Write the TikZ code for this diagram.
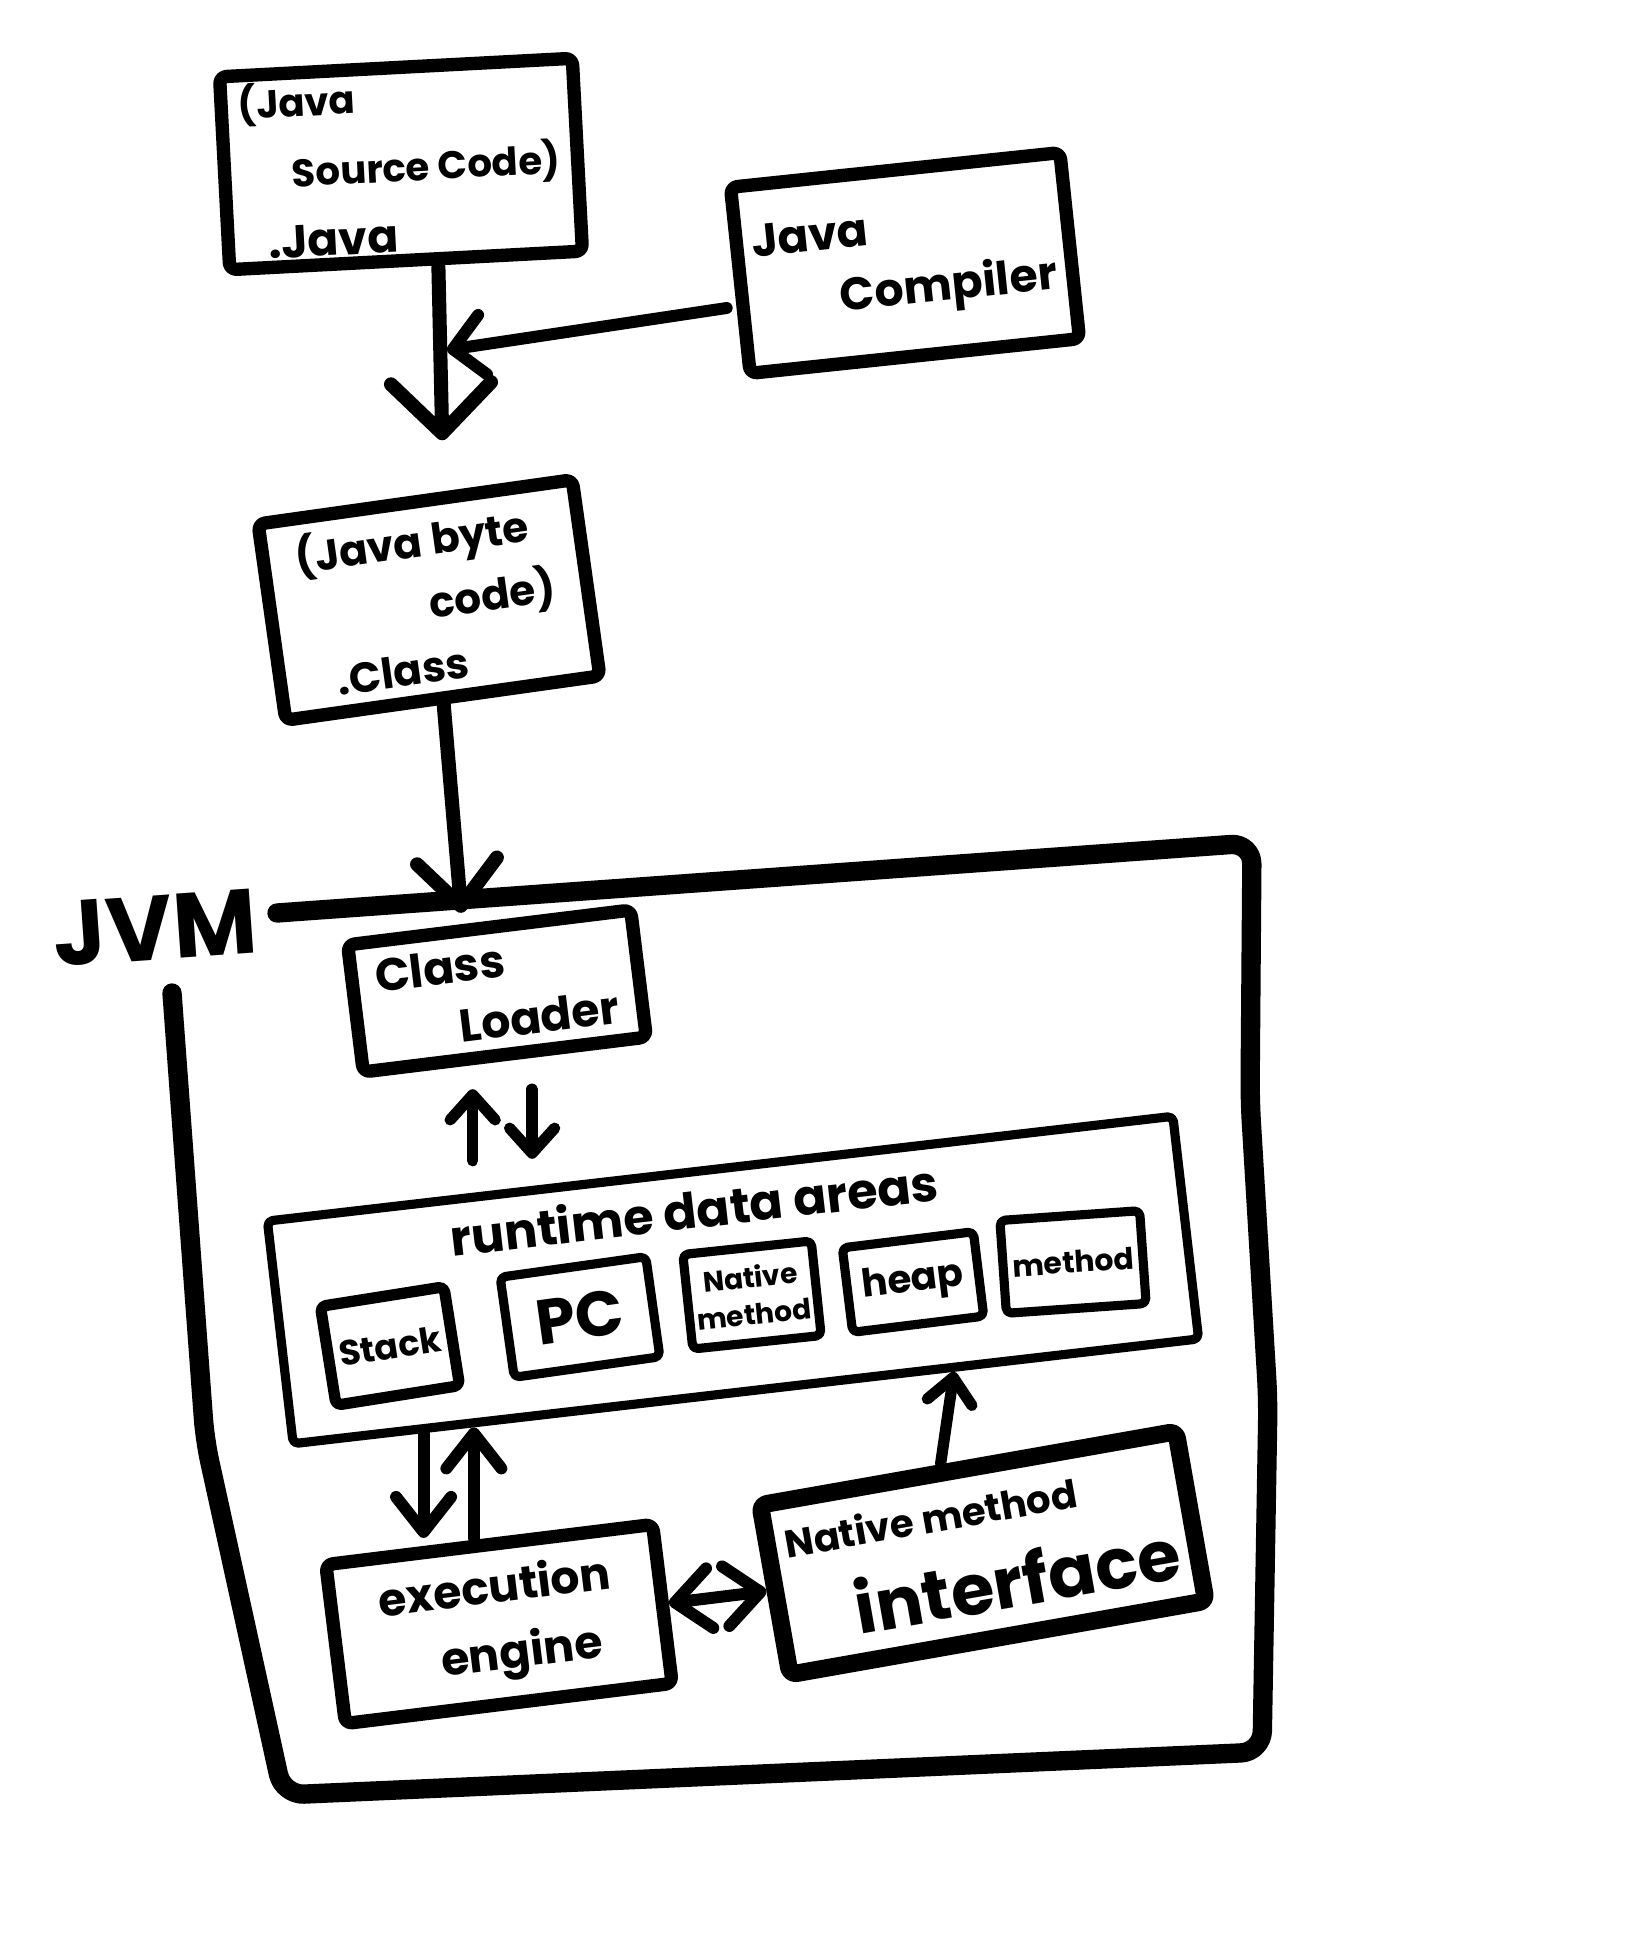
\documentclass[tikz,border=0pt]{standalone}
\usepackage{fontspec}
\newfontfamily\handfont{Poppins}
\newcommand{\handsize}[2]{\handfont\bfseries\fontsize{#1}{#2}\selectfont}
\usetikzlibrary{positioning,arrows.meta,calc}
\tikzset{
  sketchbox/.style={draw, line width=3.8pt, line join=round, rounded corners=2pt, align=left, inner sep=0pt},
  areabox/.style={draw, line width=2.6pt, line join=round, rounded corners=1.5pt, align=center, inner sep=0pt},
  jvmframe/.style={line width=5.5pt, line join=round, rounded corners=6pt},
  bigarrow/.style={line width=4pt, -{Straight Barb[length=5mm, width=10mm, round]}},
  clarrow/.style={line width=4pt, -{Straight Barb[length=4.5mm, width=8mm, round]}},
  midarrow/.style={line width=3.4pt, -{Straight Barb[length=3mm, width=6mm, round]}},
  smallarrow/.style={line width=3.2pt, -{Straight Barb[length=2.5mm, width=4.5mm, round]}},
  engarrow/.style={line width=3.4pt, -{Straight Barb[length=3.5mm, width=5.5mm, round]}},
  dblarrow/.style={line width=3.4pt, {Straight Barb[length=3.5mm, width=6mm, round]}-{Straight Barb[length=3.5mm, width=6mm, round]}}
}

\begin{document}
\begin{tikzpicture}[x=0.01cm, y=-0.01cm, line cap=round]
  \useasboundingbox (0,0) rectangle (1640,1943);
  % compile step
  \node[sketchbox, minimum width=3.53cm, minimum height=1.93cm, rotate=3, font=\handsize{11}{20}] (src) at (401,164) {(Java\\\hspace*{1.3em}Source Code)\\\hspace*{0.6em}{\fontsize{13}{20}\selectfont .Java}};
  \node[sketchbox, minimum width=3.31cm, minimum height=1.87cm, rotate=6, font=\handsize{13}{18}] (comp) at (905,263) {Java\\\hspace*{1.8em}Compiler};
  \node[sketchbox, minimum width=3.17cm, minimum height=1.98cm, rotate=8, font=\handsize{12}{18}] (bc) at (429,600) {(Java byte\\\hspace*{3em}code)\\\hspace*{0.6em}.Class};
  \coordinate (join) at (447,350);
  \coordinate (srctip) at ($(bc.north)+(28,-55)$);
  \draw[bigarrow] ($(src.south)+(32,0)$) -- (srctip);
  \draw[midarrow] ($(comp.west)+(-7,27)$) -- (join);

  % JVM
  \node[font=\handsize{26}{30}, rotate=4] (jvm) at (155,928) {JVM};
  \draw[jvmframe] (277,913) -- (1252,843) -- (1250,1100) -- (1268,1400) -- (1262,1752) -- (283,1795) -- (205,1440) -- (172,993);
  \node[sketchbox, minimum width=2.85cm, minimum height=1.28cm, rotate=7, font=\handsize{13}{17}] (cl) at (497,991) {Class\\\hspace*{1.7em}Loader};
  \coordinate (clin) at ($(cl.north)+(-27,-8)$);
  \draw[clarrow] (bc.south) -- (clin);

  % runtime data areas
  \node[areabox, minimum width=9.11cm, minimum height=2.24cm, rotate=6.6] (rt) at (733,1280) {};
  \node[rotate=6.6, font=\handsize{14}{16}] (rtlabel) at (694,1209) {runtime data areas};
  \node[areabox, line width=3.2pt, minimum width=1.25cm, minimum height=1.0cm, rotate=9, font=\handsize{10}{12}] (stack) at (390,1346) {Stack};
  \node[areabox, minimum width=1.47cm, minimum height=1.01cm, rotate=8, font=\handsize{18}{20}] (pc) at (580,1317) {PC};
  \node[areabox, minimum width=1.29cm, minimum height=0.95cm, rotate=6, font=\handsize{8}{10.5}] (native) at (752,1295) {Native\\method};
  \node[areabox, minimum width=1.32cm, minimum height=0.85cm, rotate=7, font=\handsize{11}{13}] (heap) at (913,1282) {heap};
  \node[areabox, minimum width=1.40cm, minimum height=0.93cm, rotate=4, font=\handsize{8.5}{10}] (method) at (1073,1262) {method};

  \coordinate (rtin1) at ($(rt.north west)!0.23!(rt.north east)$);
  \coordinate (rtin2) at ($(rt.north west)!0.295!(rt.north east)$);
  \draw[smallarrow, shorten <=0.32cm, shorten >=0.28cm] (rtin1) -- (rtin1 |- cl.south);
  \draw[smallarrow, shorten <=0.28cm, shorten >=0.27cm] (rtin2 |- cl.south) -- (rtin2);

  % engine and native interface
  \node[sketchbox, minimum width=3.29cm, minimum height=1.60cm, rotate=7, font=\handsize{13}{19}] (ee) at (499,1624) {execution\\\hspace*{1.2em}engine};
  \node[sketchbox, line width=5pt, minimum width=4.22cm, minimum height=1.72cm, rotate=10, font=\handsize{11}{25}] (nmi) at (983,1553) {Native method\\\hspace*{1.5em}{\fontsize{20}{25}\selectfont interface}};

  \coordinate (rtout1) at ($(rt.south west)!0.147!(rt.south east)$);
  \coordinate (rtout2) at ($(rt.south west)!0.202!(rt.south east)$);
  \coordinate (rtout3) at ($(rt.south west)!0.727!(rt.south east)$);
  \coordinate (nmiout) at ($(nmi.north west)!0.44!(nmi.north east)$);
  \draw[engarrow] (rtout1) -- (rtout1 |- ee.north);
  \draw[engarrow] (rtout2 |- ee.north) -- (rtout2);
  \draw[smallarrow] (nmiout) -- (rtout3);
  \draw[dblarrow] (ee.east) -- (nmi.west);
\end{tikzpicture}
\end{document}
